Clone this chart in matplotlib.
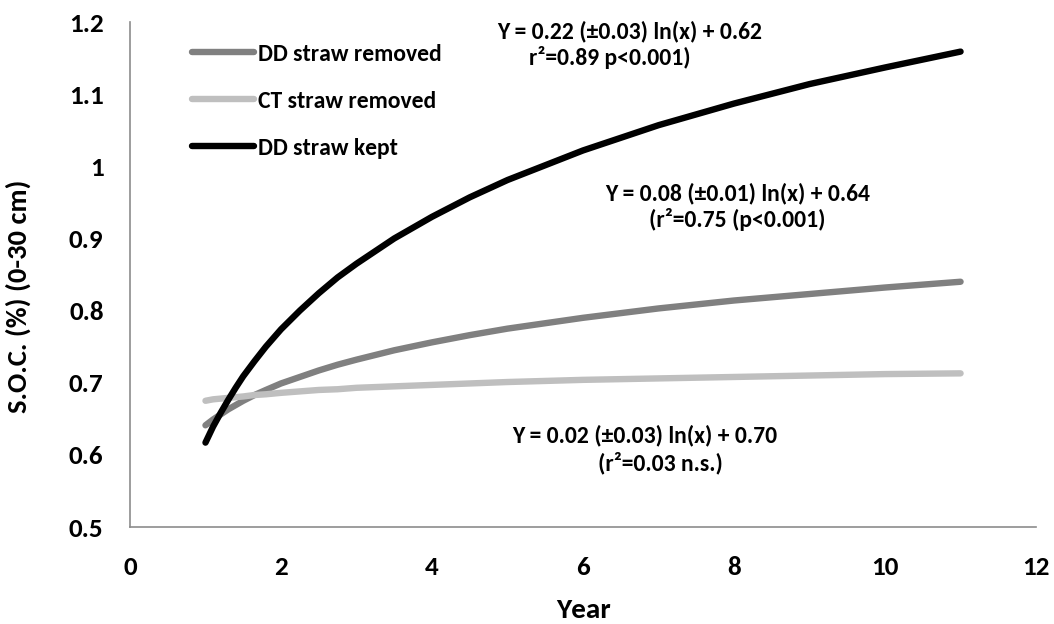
import matplotlib
matplotlib.use("Agg")
import matplotlib.pyplot as plt

plt.rcParams['font.family'] = ['Carlito', 'DejaVu Sans']
plt.rcParams['font.weight'] = 'bold'

# Values
years = [1, 1.1, 1.2, 1.3, 1.4, 1.5, 1.65, 1.8, 2, 2.25, 2.5, 2.75, 3, 3.5, 4, 4.5, 5,
         6, 7, 8, 9, 10, 11]
dd_removed = [0.641, 0.649, 0.656, 0.663, 0.669, 0.675, 0.683, 0.690, 0.699, 0.708,
              0.717, 0.725, 0.732, 0.745, 0.756, 0.766, 0.775,
              0.790, 0.803, 0.814, 0.823, 0.832, 0.840]
ct_removed = [0.675, 0.677, 0.678, 0.679, 0.680, 0.681, 0.683, 0.684, 0.686, 0.688,
              0.690, 0.691, 0.693, 0.695, 0.697, 0.699, 0.701,
              0.704, 0.706, 0.708, 0.710, 0.712, 0.713]
dd_kept = [0.617, 0.639, 0.658, 0.676, 0.693, 0.709, 0.730, 0.750, 0.774, 0.800,
           0.824, 0.846, 0.865, 0.900, 0.930, 0.957, 0.981,
           1.022, 1.057, 1.087, 1.114, 1.137, 1.159]

series_names = ["DD straw removed", "CT straw removed", "DD straw kept"]
series_colors = ["#808080", "#bfbfbf", "#000000"]
xticks = [0, 2, 4, 6, 8, 10, 12]
yticks = [0.5, 0.6, 0.7, 0.8, 0.9, 1.0, 1.1, 1.2]
ytick_labels = ["0.5", "0.6", "0.7", "0.8", "0.9", "1", "1.1", "1.2"]

fig = plt.figure(figsize=(10.54, 6.24), dpi=100)
ax = fig.add_axes([0.1233, 0.1554, 0.983 - 0.1233, 0.9647 - 0.1554])

for vals, name, col in zip([dd_removed, ct_removed, dd_kept], series_names, series_colors):
    ax.plot(years, vals, color=col, lw=4.6, solid_capstyle='round',
            solid_joinstyle='round', label=name)

ax.set_xlim(0, 12)
ax.set_ylim(0.5, 1.2)
ax.set_xticks(xticks)
ax.set_xticklabels([str(t) for t in xticks])
ax.set_yticks(yticks)
ax.set_yticklabels(ytick_labels)
ax.tick_params(length=0, labelsize=19.5)
for lbl in ax.get_xticklabels() + ax.get_yticklabels():
    lbl.set_fontweight('bold')
ax.tick_params(axis='x', pad=21)
ax.tick_params(axis='y', pad=19)

for s in ['top', 'right']:
    ax.spines[s].set_visible(False)
for s in ['left', 'bottom']:
    ax.spines[s].set_color('#8c8c8c')
    ax.spines[s].set_linewidth(1.2)

ax.set_xlabel("Year", fontsize=21, fontweight='bold', va='center')
ax.xaxis.set_label_coords(0.5, (527 - 610) / 505)
ax.set_ylabel("S.O.C. (%) (0-30 cm)", fontsize=20.5, fontweight='bold', va='center')
ax.yaxis.set_label_coords((18 - 130) / 906, (527 - 296) / 505)

leg = ax.legend(loc='upper left', bbox_to_anchor=(0.068, 0.957), frameon=False,
                borderpad=0, borderaxespad=0,
                handlelength=2.63, handletextpad=0.17, labelspacing=1.1,
                prop={'size': 17, 'weight': 'bold'})

tkw = dict(fontsize=17, fontweight='bold', ha='center', va='center')
ax.text(6.62, 1.1875, "Y = 0.22 (±0.03) ln(x) + 0.62", **tkw)
ax.text(6.36, 1.1515, "r²=0.89 p<0.001)", **tkw)
ax.text(8.05, 0.963, "Y = 0.08 (±0.01) ln(x) + 0.64", **tkw)
ax.text(8.04, 0.926, "(r²=0.75 (p<0.001)", **tkw)
ax.text(6.815, 0.6275, "Y = 0.02 (±0.03) ln(x) + 0.70", **tkw)
ax.text(7.03, 0.589, "(r²=0.03 n.s.)", **tkw)

fig.savefig("out.png", dpi=100)
